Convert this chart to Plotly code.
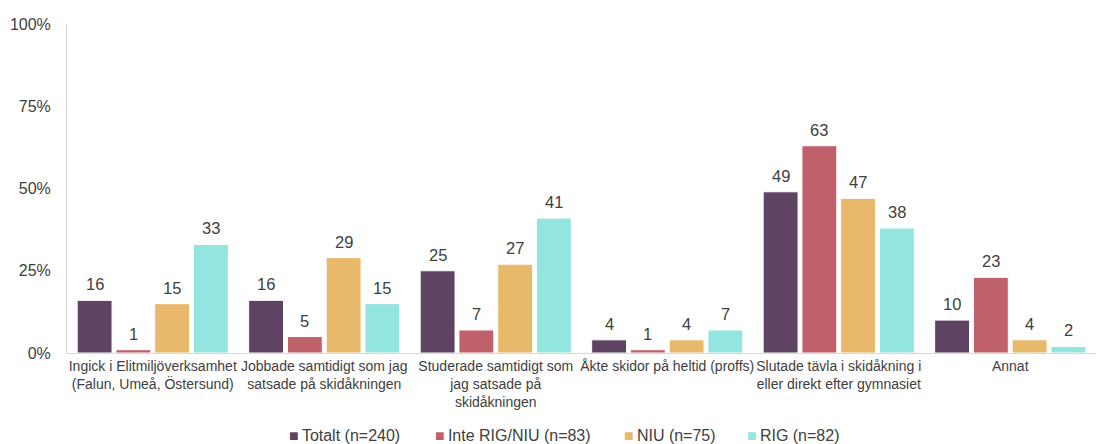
import plotly.graph_objects as go

categories = [
    "Ingick i Elitmiljöverksamhet<br>(Falun, Umeå, Östersund)",
    "Jobbade samtidigt som jag<br>satsade på skidåkningen",
    "Studerade samtidigt som<br>jag satsade på<br>skidåkningen",
    "Åkte skidor på heltid (proffs)",
    "Slutade tävla i skidåkning i<br>eller direkt efter gymnasiet",
    "Annat",
]
series_names = ["Totalt (n=240)", "Inte RIG/NIU (n=83)", "NIU (n=75)", "RIG (n=82)"]
totalt = [16, 16, 25, 4, 49, 10]
inte_rig_niu = [1, 5, 7, 1, 63, 23]
niu = [15, 29, 27, 4, 47, 4]
rig = [33, 15, 41, 7, 38, 2]
tick_values = [0, 25, 50, 75, 100]

colors = ["#5E4462", "#C0606B", "#E8B96A", "#93E6E0"]
font = "Liberation Sans, Arial, sans-serif"
text_color = "#404040"

BARGAP = 0.096
BARGROUPGAP = 0.1
all_series = [totalt, inte_rig_niu, niu, rig]
n_series = len(all_series)
slot = (1 - BARGAP) / n_series  # width of each trace's slot inside a category

fig = go.Figure()
for k, (name, vals, col) in enumerate(zip(series_names, all_series, colors)):
    fig.add_trace(go.Bar(
        name=name,
        x=categories,
        y=vals,
        marker=dict(color=col, line=dict(color="white", width=1)),
        showlegend=False,
    ))
    # value label above each bar, centred on that trace's slot
    centre = -(1 - BARGAP) / 2 + slot * (k + 0.5)
    for i, v in enumerate(vals):
        fig.add_annotation(
            xref="x", yref="y",
            x=i + centre, y=v,
            xanchor="center", yanchor="bottom",
            yshift=5,
            showarrow=False,
            text=str(v),
            font=dict(family=font, size=16.5, color=text_color),
        )

# compact legend row under the plot: coloured square + series name
legend_x_px = [287, 433, 622, 745]
plot_left, plot_width = 67, 1029
for name, col, px in zip(series_names, colors, legend_x_px):
    fig.add_annotation(
        xref="paper", yref="paper",
        x=(px - plot_left) / plot_width, y=-0.252,
        xanchor="left", yanchor="middle",
        showarrow=False,
        text=f"<span style='color:{col}'>■</span>\u2009{name}",
        font=dict(family=font, size=16, color=text_color),
    )

fig.update_layout(
    width=1096,
    height=444,
    margin=dict(l=67, r=0, t=24, b=91, autoexpand=False),
    paper_bgcolor="white",
    plot_bgcolor="white",
    barmode="group",
    bargap=BARGAP,
    bargroupgap=BARGROUPGAP,
    font=dict(family=font, color=text_color),
)
fig.update_xaxes(
    automargin=False,
    tickangle=0,
    showline=True, linecolor="#D9D9D9", linewidth=1,
    showgrid=False, ticks="",
    tickfont=dict(family=font, size=14, color=text_color),
)
fig.update_yaxes(
    automargin=False,
    range=[0, 100],
    tickvals=tick_values,
    ticktext=[f"{v}%" for v in tick_values],
    showline=True, linecolor="#D9D9D9", linewidth=1,
    showgrid=False, zeroline=False, ticks="",
    ticklabelstandoff=12,
    tickfont=dict(family=font, size=16, color=text_color),
)

fig.write_html("out.html")
